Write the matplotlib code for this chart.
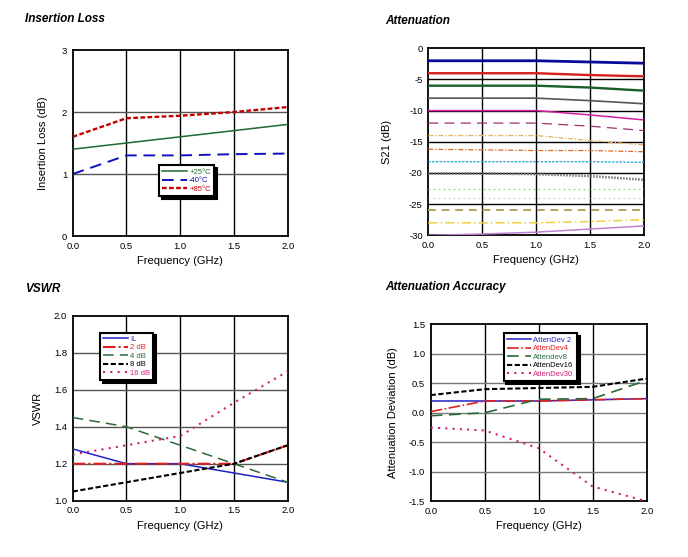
import matplotlib
matplotlib.use("Agg")
import matplotlib.pyplot as plt
import numpy as np

freq = [0.0, 0.5, 1.0, 1.5, 2.0]

# Insertion loss
il_labels = ["+25°C", "-40°C", "+85°C"]
il_25 = [1.40, 1.50, 1.60, 1.70, 1.80]
il_m40 = [1.00, 1.30, 1.30, 1.32, 1.33]
il_85 = [1.60, 1.90, 1.94, 2.00, 2.08]

# Attenuation states
att_vals = [
    [-2.0, -2.0, -2.0, -2.2, -2.4],
    [-4.0, -4.0, -4.0, -4.3, -4.5],
    [-6.0, -6.0, -6.0, -6.3, -6.8],
    [-8.0, -8.0, -8.0, -8.4, -8.9],
    [-10.0, -10.0, -10.0, -10.7, -11.5],
    [-12.0, -12.0, -12.0, -12.5, -13.2],
    [-14.0, -14.0, -14.0, -14.8, -15.5],
    [-16.2, -16.3, -16.4, -16.4, -16.6],
    [-18.2, -18.2, -18.2, -18.2, -18.3],
    [-20.1, -20.1, -20.2, -20.5, -21.1],
    [-22.5, -22.5, -22.5, -22.5, -22.5],
    [-24.0, -24.0, -24.0, -24.0, -24.0],
    [-26.0, -26.0, -26.0, -26.0, -26.0],
    [-28.0, -28.0, -28.0, -27.8, -27.5],
    [-30.0, -29.8, -29.5, -29.0, -28.5],
]

# VSWR
vswr_labels = ["IL", "2 dB", "4 dB", "8 dB", "16 dB"]
vswr_il = [1.28, 1.20, 1.20, 1.15, 1.10]
vswr_2 = [1.20, 1.20, 1.20, 1.20, 1.30]
vswr_4 = [1.45, 1.40, 1.30, 1.20, 1.10]
vswr_8 = [1.05, 1.10, 1.15, 1.20, 1.30]
vswr_16 = [1.25, 1.30, 1.35, 1.53, 1.70]

# Attenuation accuracy
acc_labels = ["AttenDev 2", "AttenDev4", "Attendev8", "AttenDev16", "AttenDev30"]
acc_2 = [0.20, 0.20, 0.20, 0.22, 0.24]
acc_4 = [0.02, 0.20, 0.20, 0.22, 0.24]
acc_8 = [-0.05, 0.00, 0.23, 0.24, 0.55]
acc_16 = [0.30, 0.40, 0.42, 0.44, 0.58]
acc_30 = [-0.25, -0.30, -0.60, -1.25, -1.50]

plt.rcParams['font.family'] = ['Liberation Sans', 'DejaVu Sans']

fig = plt.figure(figsize=(6.88, 5.57), dpi=100)

def style(ax, ylim, yticks, yfmt, hgrid='#555555'):
    ax.set_xlim(0, 2)
    ax.set_ylim(*ylim)
    ax.set_xticks(freq)
    ax.set_xticklabels([f"{v:.1f}" for v in freq])
    ax.set_yticks(yticks)
    ax.set_yticklabels([yfmt(v) for v in yticks])
    ax.tick_params(length=0, labelsize=6.8, pad=4)
    for x in freq[1:-1]:
        ax.axvline(x, color='black', lw=1.0, zorder=1)
    for y in yticks[1:-1]:
        ax.axhline(y, color=hgrid, lw=1.0, zorder=1)
    for s in ax.spines.values():
        s.set_linewidth(1.3)
    ax.set_xlabel("Frequency (GHz)", fontsize=8, labelpad=4)

def leg(ax, loc):
    l = ax.legend(loc='upper left', bbox_to_anchor=loc, fontsize=5.5, handlelength=3.2,
                  handletextpad=0.3, labelspacing=0.15, borderpad=0.4,
                  frameon=True, fancybox=False, labelcolor='linecolor',
                  shadow={'color': 'black', 'alpha': 1.0, 'ox': 2, 'oy': -2})
    l.get_frame().set_edgecolor('black')
    l.get_frame().set_linewidth(1.5)
    l.set_zorder(5)
    return l

# --- Insertion loss
ax1 = fig.add_axes([0.1057, 0.5763, 0.3125, 0.3339])
style(ax1, (0, 3), [0, 1, 2, 3], lambda v: f"{v:d}")
ax1.plot(freq, il_25, color='#1e6b2e', lw=1.1, label=il_labels[0], zorder=3)
ax1.plot(freq, il_m40, color='#1010c0', lw=1.4, ls=(0, (6, 3.5)), label=il_labels[1], zorder=3)
ax1.plot(freq, il_85, color='#c00000', lw=1.7, ls=(0, (2, 1)), label=il_labels[2], zorder=3)
ax1.set_ylabel("Insertion Loss (dB)", fontsize=8, labelpad=10)
leg(ax1, (0.385, 0.40))
fig.text(0.036, 0.965, "Insertion Loss", fontsize=8.5, fontweight='bold', style='italic', va='center')

# --- Attenuation
ax2 = fig.add_axes([0.6225, 0.5776, 0.314, 0.3357])
style(ax2, (-30, 0), [-30, -25, -20, -15, -10, -5, 0], lambda v: f"{v:d}", hgrid='black')
att_styles = [
    dict(color='#0a0a9a', lw=2.0, ls='-'),
    dict(color='#d42020', lw=1.7, ls='-'),
    dict(color='#1a5e2a', lw=1.7, ls='-'),
    dict(color='#555555', lw=1.2, ls='-'),
    dict(color='#d020a0', lw=1.1, ls='-'),
    dict(color='#a03070', lw=0.9, ls=(0, (8, 5))),
    dict(color='#e8b060', lw=0.9, ls=(0, (4, 1.5, 1, 1.5))),
    dict(color='#e06820', lw=0.9, ls=(0, (4, 1.5, 1, 1.5))),
    dict(color='#20a0d0', lw=0.9, ls=(0, (2, 1))),
    dict(color='#707070', lw=1.8, ls=(0, (0.6, 0.6))),
    dict(color='#80e080', lw=0.9, ls=(0, (1.5, 2.5))),
    dict(color='#d8c8d8', lw=0.9, ls=(0, (1.5, 2.5))),
    dict(color='#b0a060', lw=1.4, ls=(0, (4, 3))),
    dict(color='#f0d040', lw=1.1, ls=(0, (6, 2, 1, 2))),
    dict(color='#c080d0', lw=1.1, ls='-'),
]
for vals, st in zip(att_vals, att_styles):
    ax2.plot(freq, vals, zorder=3, **st)
ax2.set_ylabel("S21 (dB)", fontsize=8, labelpad=12)
fig.text(0.560, 0.962, "Attenuation", fontsize=8.5, fontweight='bold', style='italic', va='center')

# --- VSWR
ax3 = fig.add_axes([0.1057, 0.1010, 0.3125, 0.3321])
style(ax3, (1.0, 2.0), [1.0, 1.2, 1.4, 1.6, 1.8, 2.0], lambda v: f"{v:.1f}")
ax3.plot(freq, vswr_il, color='#2020c8', lw=1.1, label=vswr_labels[0], zorder=3)
ax3.plot(freq, vswr_2, color='#e02020', lw=1.5, ls=(0, (6, 1.5, 1, 1.5)), label=vswr_labels[1], zorder=3)
ax3.plot(freq, vswr_4, color='#2a6a3a', lw=1.1, ls=(0, (7, 4)), label=vswr_labels[2], zorder=3)
ax3.plot(freq, vswr_8, color='black', lw=1.5, ls=(0, (2.5, 1.2)), label=vswr_labels[3], zorder=3)
ax3.plot(freq, vswr_16, color='#d0207a', lw=1.5, ls=(0, (1, 2.5)), label=vswr_labels[4], zorder=3)
ax3.set_ylabel("VSWR", fontsize=8, labelpad=8)
leg(ax3, (0.11, 0.93))
fig.text(0.036, 0.481, "VSWR", fontsize=8.5, fontweight='bold', style='italic', va='center')

# --- Attenuation accuracy
ax4 = fig.add_axes([0.626, 0.1000, 0.314, 0.3178])
style(ax4, (-1.5, 1.5), [-1.5, -1.0, -0.5, 0.0, 0.5, 1.0, 1.5], lambda v: f"{v:.1f}", hgrid='#777777')
ax4.plot(freq, acc_2, color='#2020c8', lw=1.1, label=acc_labels[0], zorder=3)
ax4.plot(freq, acc_4, color='#e02020', lw=1.2, ls=(0, (7, 1.5, 1, 1.5)), label=acc_labels[1], zorder=3)
ax4.plot(freq, acc_8, color='#2a6a3a', lw=1.2, ls=(0, (7, 4)), label=acc_labels[2], zorder=3)
ax4.plot(freq, acc_16, color='black', lw=1.5, ls=(0, (2.5, 1.2)), label=acc_labels[3], zorder=3)
ax4.plot(freq, acc_30, color='#d0207a', lw=1.5, ls=(0, (1, 2.5)), label=acc_labels[4], zorder=3)
ax4.set_ylabel("Attenuation Deviation (dB)", fontsize=8, labelpad=8)
leg(ax4, (0.32, 0.97))
fig.text(0.560, 0.484, "Attenuation Accuracy", fontsize=8.5, fontweight='bold', style='italic', va='center')

fig.savefig("out.png", dpi=100)
